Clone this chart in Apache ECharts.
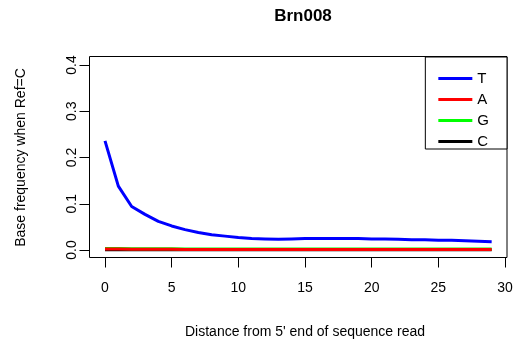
<!DOCTYPE html>
<html>
<head>
<meta charset="utf-8">
<script src="https://cdn.jsdelivr.net/npm/echarts@6/dist/echarts.min.js"></script>
<style>
  html, body { margin: 0; padding: 0; background: #fff; }
  #chart { width: 517px; height: 347px; }
</style>
</head>
<body>
<div id="chart"></div>
<script>
const positions = Array.from({ length: 30 }, (_, i) => i);
const baseT = [0.236, 0.138, 0.094, 0.077, 0.062, 0.052, 0.044, 0.038, 0.033, 0.030,
  0.027, 0.025, 0.024, 0.023, 0.024, 0.025, 0.025, 0.025, 0.025, 0.025,
  0.024, 0.024, 0.023, 0.022, 0.022, 0.021, 0.021, 0.020, 0.019, 0.018];
const baseA = [0.002, 0.002, 0.0015, 0.0015, 0.0015, 0.0015, 0.0012, 0.0012, 0.0012, 0.001,
  0.001, 0.001, 0.001, 0.001, 0.001, 0.001, 0.001, 0.001, 0.001, 0.001,
  0.001, 0.001, 0.001, 0.001, 0.001, 0.001, 0.001, 0.001, 0.001, 0.001];
const baseG = [0.003, 0.003, 0.0025, 0.0025, 0.0025, 0.0025, 0.0022, 0.0022, 0.0022, 0.002,
  0.002, 0.002, 0.002, 0.002, 0.002, 0.002, 0.002, 0.002, 0.002, 0.002,
  0.002, 0.002, 0.002, 0.002, 0.002, 0.002, 0.002, 0.002, 0.002, 0.002];
const baseC = [0, 0, 0, 0, 0, 0, 0, 0, 0, 0, 0, 0, 0, 0, 0,
  0, 0, 0, 0, 0, 0, 0, 0, 0, 0, 0, 0, 0, 0, 0];
const xTicks = [0, 30, 5];
const yTicks = [0, 0.4, 0.1];

const font = "Liberation Sans, Arial, Helvetica, sans-serif";
const pair = (vals) => vals.map((v, i) => [positions[i], v]);
const line = (name, color, vals) => ({
  name,
  type: "line",
  data: pair(vals),
  showSymbol: false,
  symbol: "none",
  clip: true,
  color,
  lineStyle: { color, width: 3 },
});

const chart = echarts.init(document.getElementById("chart"), null, { renderer: "canvas" });
chart.setOption({
  animation: false,
  backgroundColor: "#fff",
  textStyle: { fontFamily: font },
  title: {
    text: "Brn008",
    left: 298,
    top: 3,
    textAlign: "center",
    textStyle: { fontFamily: font, fontSize: 17, fontWeight: "bold", color: "#000" },
  },
  legend: {
    orient: "vertical",
    right: 10,
    top: 57,
    data: ["T", "A", "G", "C"],
    icon: "rect",
    itemWidth: 34,
    itemHeight: 3,
    itemGap: 6,
    itemTextGap: 13,
    padding: [14, 18, 0, 13],
    borderColor: "#000",
    borderWidth: 1,
    borderRadius: 0,
    backgroundColor: "#fff",
    selectedMode: false,
    textStyle: { fontFamily: font, fontSize: 15, color: "#000" },
  },
  grid: [
    { left: 105, right: 12, top: 65, bottom: 97 },
    { left: 89.5, right: 10, top: 56.5, bottom: 89.5, show: true, borderColor: "#000", borderWidth: 1, backgroundColor: "transparent" },
  ],
  xAxis: [
    {
      gridIndex: 0,
      type: "value",
      min: xTicks[0],
      max: xTicks[1],
      interval: xTicks[2],
      offset: 7.5,
      axisLine: { show: true, onZero: false, lineStyle: { color: "#000", width: 1 } },
      axisTick: { show: true, length: 10, lineStyle: { color: "#000" } },
      axisLabel: { color: "#000", fontSize: 14, margin: 24, fontFamily: font },
      splitLine: { show: false },
      name: "Distance from 5' end of sequence read",
      nameLocation: "middle",
      nameGap: 68,
      nameTextStyle: { color: "#000", fontSize: 14, fontFamily: font },
    },
    { gridIndex: 1, type: "value", show: false, min: 0, max: 1 },
  ],
  yAxis: [
    {
      gridIndex: 0,
      type: "value",
      min: yTicks[0],
      max: yTicks[1],
      interval: yTicks[2],
      offset: 15.5,
      axisLine: { show: true, onZero: false, lineStyle: { color: "#000", width: 1 } },
      axisTick: { show: true, length: 10, lineStyle: { color: "#000" } },
      axisLabel: {
        color: "#000",
        fontSize: 14,
        margin: 10,
        rotate: 90,
        fontFamily: font,
        formatter: (v) => v.toFixed(1),
      },
      splitLine: { show: false },
      name: "Base frequency when Ref=C",
      nameLocation: "middle",
      nameRotate: 90,
      nameGap: 61,
      nameTextStyle: { color: "#000", fontSize: 14, fontFamily: font },
    },
    { gridIndex: 1, type: "value", show: false, min: 0, max: 1 },
  ],
  series: [
    line("C", "#000000", baseC),
    line("G", "#00ff00", baseG),
    line("A", "#ff0000", baseA),
    line("T", "#0000ff", baseT),
  ],
});
</script>
</body>
</html>
